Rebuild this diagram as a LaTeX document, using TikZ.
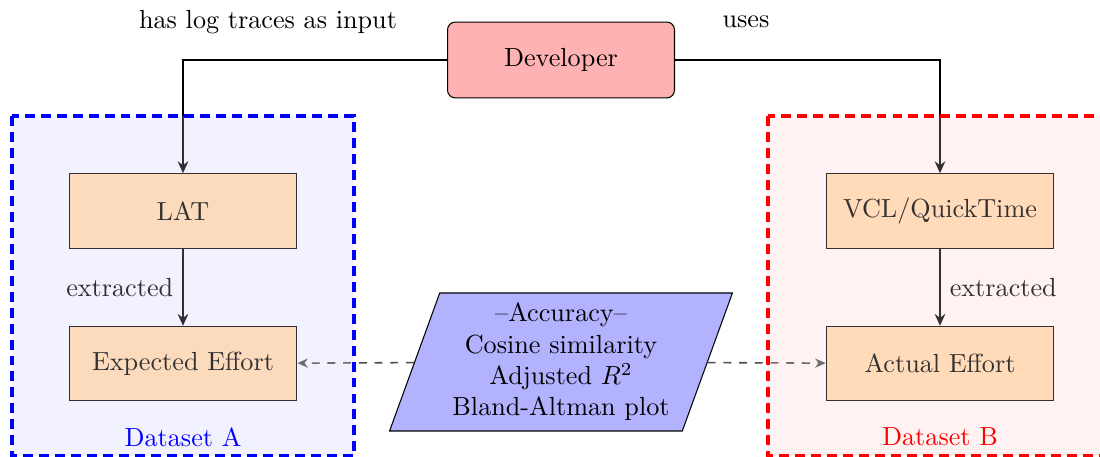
\documentclass[tikz,border=0pt]{standalone}
\usepackage{amsmath}
\usepackage{xcolor}
\usetikzlibrary{arrows.meta, positioning, calc, shapes.geometric}

\begin{document}
\begin{tikzpicture}[
    x=0.382pt, y=-0.382pt,
    devbox/.style={draw, rounded corners=3pt, fill=red!30, minimum width=86.7pt,
        minimum height=29pt},
    toolbox/.style={draw, fill=orange!32, minimum width=87pt, minimum height=28.5pt,
        align=center},
    metric/.style={draw, trapezium, trapezium left angle=70, trapezium right angle=110,
        fill=blue!30, align=center, minimum height=52pt, minimum width=131pt,
        inner xsep=0pt, inner ysep=1pt},
    flow/.style={-{Stealth[length=4.5pt, width=4pt]}, thick},
    compare/.style={-{Stealth[length=4pt, width=3.5pt]}, dashed, semithick, black!70},
    region/.style={dash pattern=on 3.8pt off 2.3pt, line width=1.6pt}
]
\useasboundingbox (0,0) rectangle (1100,457);
% dataset backgrounds
\fill[blue!5] (12,116) rectangle (354,456);
\fill[red!5] (768,116) rectangle (1110,456);

\node[devbox] (dev) at (561,60) {Developer};
\node[toolbox] (lat) at (183,211) {LAT};
\node[toolbox, below=29.4pt of lat] (expected) {Expected Effort};
\node[toolbox] (vcl) at (940,211) {VCL/QuickTime};
\node[toolbox, below=29.4pt of vcl] (actual) {Actual Effort};
\node[metric] (acc) at (561,362) {--Accuracy--\\Cosine similarity\\Adjusted $R^2$\\Bland-Altman plot};

\node (inputlabel) at (268,22) {has log traces as input};
\node (useslabel) at (746,22) {uses};

\draw[flow] (dev.west) -| (lat.north);
\draw[flow] (dev.east) -| (vcl.north);
\draw[flow] (lat) -- node[left] {extracted} (expected);
\draw[flow] (vcl) -- node[right] {extracted} (actual);
\draw[compare] (acc) -- (expected);
\draw[compare] (acc) -- (actual);

% dataset frames
\fill[blue!5, fill opacity=0.2] (12,116) rectangle (354,456);
\fill[red!5, fill opacity=0.2] (768,116) rectangle (1110,456);
\draw[region, blue] (12,116) rectangle (354,456);
\draw[region, red] (768,116) rectangle (1110,456);
\node[blue] (dataA) at (183,437) {Dataset A};
\node[red] (dataB) at (940,437) {Dataset B};
\end{tikzpicture}
\end{document}
